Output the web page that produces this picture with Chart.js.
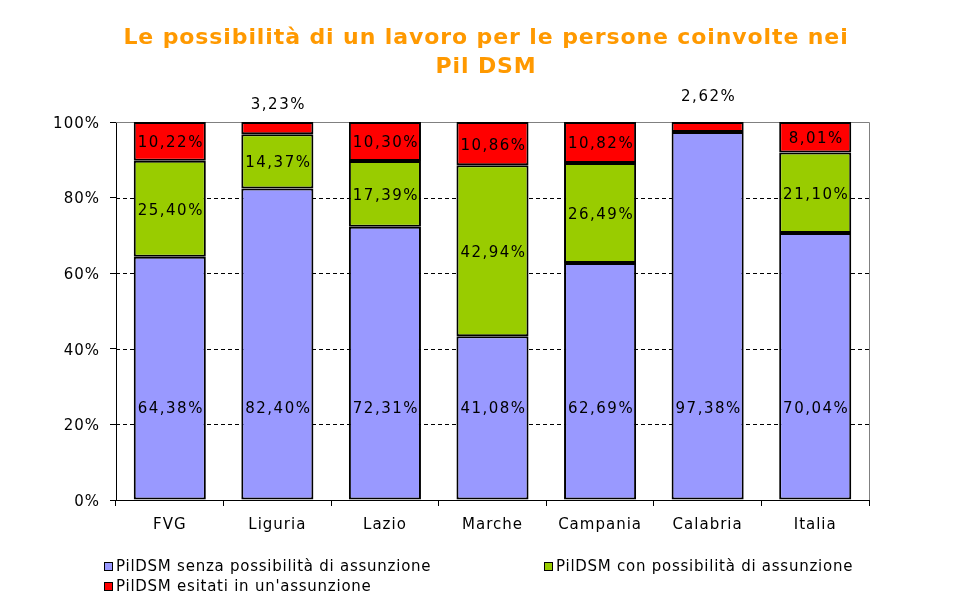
<!DOCTYPE html>
<html><head><meta charset="utf-8">
<script src="https://cdn.jsdelivr.net/npm/chart.js@4/dist/chart.umd.min.js"></script>
<style>html,body{margin:0;padding:0;background:#fff}#w{width:968px;height:601px;position:relative}</style>
</head><body><div id="w"><canvas id="c"></canvas></div>
<script>
const titleLines = ["Le possibilità di un lavoro per le persone coinvolte nei", "Pil DSM"];
const categories = ["FVG", "Liguria", "Lazio", "Marche", "Campania", "Calabria", "Italia"];
const senza = [64.38, 82.40, 72.31, 41.08, 62.69, 97.38, 70.04];
const con = [25.40, 14.37, 17.39, 42.94, 26.49, 0, 21.10];
const esitati = [10.22, 3.23, 10.30, 10.86, 10.82, 2.62, 8.01];
const seriesNames = ["PilDSM senza possibilità di assunzione", "PilDSM con possibilità di assunzione", "PilDSM esitati in un'assunzione"];
const yTicks = [0, 20, 40, 60, 80, 100];

const FONT = "'DejaVu Sans', Verdana, sans-serif";
const fmt = v => v.toFixed(2).replace('.', ',') + '%';
// 100% stacked: each category is shown as share of its total
const totals = categories.map((c, i) => senza[i] + con[i] + esitati[i]);
const norm = arr => arr.map((v, i) => v / totals[i] * 100);

const overlay = {
  id: 'overlay',
  beforeDraw(chart) { chart.ctx.letterSpacing = '1px'; },
  beforeDatasetsDraw(chart) {
    const {ctx, chartArea: a, scales: {y}} = chart;
    ctx.save();
    ctx.strokeStyle = '#000'; ctx.lineWidth = 1; ctx.setLineDash([4, 3]);
    yTicks.forEach(t => {
      if (t === 0 || t === 100) return;
      const py = Math.round(y.getPixelForValue(t)) + 0.5;
      ctx.beginPath(); ctx.moveTo(a.left, py); ctx.lineTo(a.right, py); ctx.stroke();
    });
    ctx.setLineDash([]);
    ctx.strokeStyle = '#808080';
    ctx.beginPath();
    ctx.moveTo(a.left, a.top + 0.5); ctx.lineTo(a.right + 0.5, a.top + 0.5); ctx.lineTo(a.right + 0.5, a.bottom);
    ctx.stroke();
    ctx.restore();
  },
  afterDraw(chart) {
    const {ctx, chartArea: a, scales: {x, y}} = chart;
    const ns = norm(senza), nc = norm(con), ne = norm(esitati);
    ctx.save();
    // title
    ctx.letterSpacing = '0.9px';
    ctx.fillStyle = '#FF9900';
    ctx.font = "bold 22px " + FONT;
    ctx.textAlign = 'center'; ctx.textBaseline = 'middle';
    ctx.fillText(titleLines[0], 486, 38);
    ctx.fillText(titleLines[1], 486, 67);
    // data labels
    ctx.letterSpacing = '1.5px';
    ctx.fillStyle = '#000';
    ctx.font = "15px " + FONT;
    categories.forEach((c, i) => {
      const cx = x.getPixelForValue(i) + 1;
      if (senza[i] > 0) ctx.fillText(fmt(senza[i]), cx, y.getPixelForValue(24.5) + 2);
      if (con[i] > 0) ctx.fillText(fmt(con[i]), cx, y.getPixelForValue(ns[i] + nc[i] / 2) + 2);
      if (esitati[i] >= 5) ctx.fillText(fmt(esitati[i]), cx, y.getPixelForValue(ns[i] + nc[i] + ne[i] / 2) + 2);
      else if (esitati[i] > 0) ctx.fillText(fmt(esitati[i]), cx, a.top - (esitati[i] < 3 ? 25 : 17));
    });
    // legend
    const colors = chart.data.datasets.map(d => d.backgroundColor);
    const items = [[104, 566], [544, 566], [104, 586]];
    ctx.letterSpacing = '0.75px';
    ctx.font = "15px " + FONT;
    ctx.textAlign = 'left';
    items.forEach(([lx, ly], k) => {
      ctx.fillStyle = colors[k];
      ctx.fillRect(lx, ly - 4, 8, 8);
      ctx.strokeStyle = '#000'; ctx.lineWidth = 1;
      ctx.strokeRect(lx + 0.5, ly - 3.5, 8, 8);
      ctx.fillStyle = '#000';
      ctx.fillText(seriesNames[k], lx + 12, ly + 1);
    });
    ctx.restore();
  }
};

new Chart(document.getElementById('c'), {
  type: 'bar',
  data: {
    labels: categories,
    datasets: [
      {label: seriesNames[0], data: norm(senza), backgroundColor: '#9999FF'},
      {label: seriesNames[1], data: norm(con), backgroundColor: '#99CC00'},
      {label: seriesNames[2], data: norm(esitati), backgroundColor: '#FF0000'}
    ].map(d => Object.assign(d, {borderColor: '#000', borderWidth: 2, borderSkipped: false, barPercentage: 0.67, categoryPercentage: 1}))
  },
  options: {
    responsive: true, maintainAspectRatio: false, animation: false,
    devicePixelRatio: 1,
    layout: {padding: {left: 0, top: 122, right: 99, bottom: 0}},
    plugins: {legend: {display: false}, title: {display: false}, tooltip: {enabled: false}},
    scales: {
      x: {
        stacked: true,
        afterFit: s => { s.height = 101; },
        grid: {offset: true, drawOnChartArea: false, drawTicks: true, tickLength: 6, tickColor: '#000', tickWidth: 1},
        border: {display: true, color: '#000', width: 1},
        ticks: {color: '#000', font: {family: FONT, size: 15}, padding: 10}
      },
      y: {
        stacked: true, min: 0, max: 100,
        afterFit: s => { s.width = 116; },
        afterBuildTicks: s => { s.ticks = yTicks.map(v => ({value: v})); },
        grid: {drawOnChartArea: false, drawTicks: true, tickLength: 6, tickColor: '#000'},
        border: {display: true, color: '#000', width: 1},
        ticks: {color: '#000', font: {family: FONT, size: 15}, padding: 10, labelOffset: 2, callback: v => v + '%'}
      }
    }
  },
  plugins: [overlay]
});
</script></body></html>
